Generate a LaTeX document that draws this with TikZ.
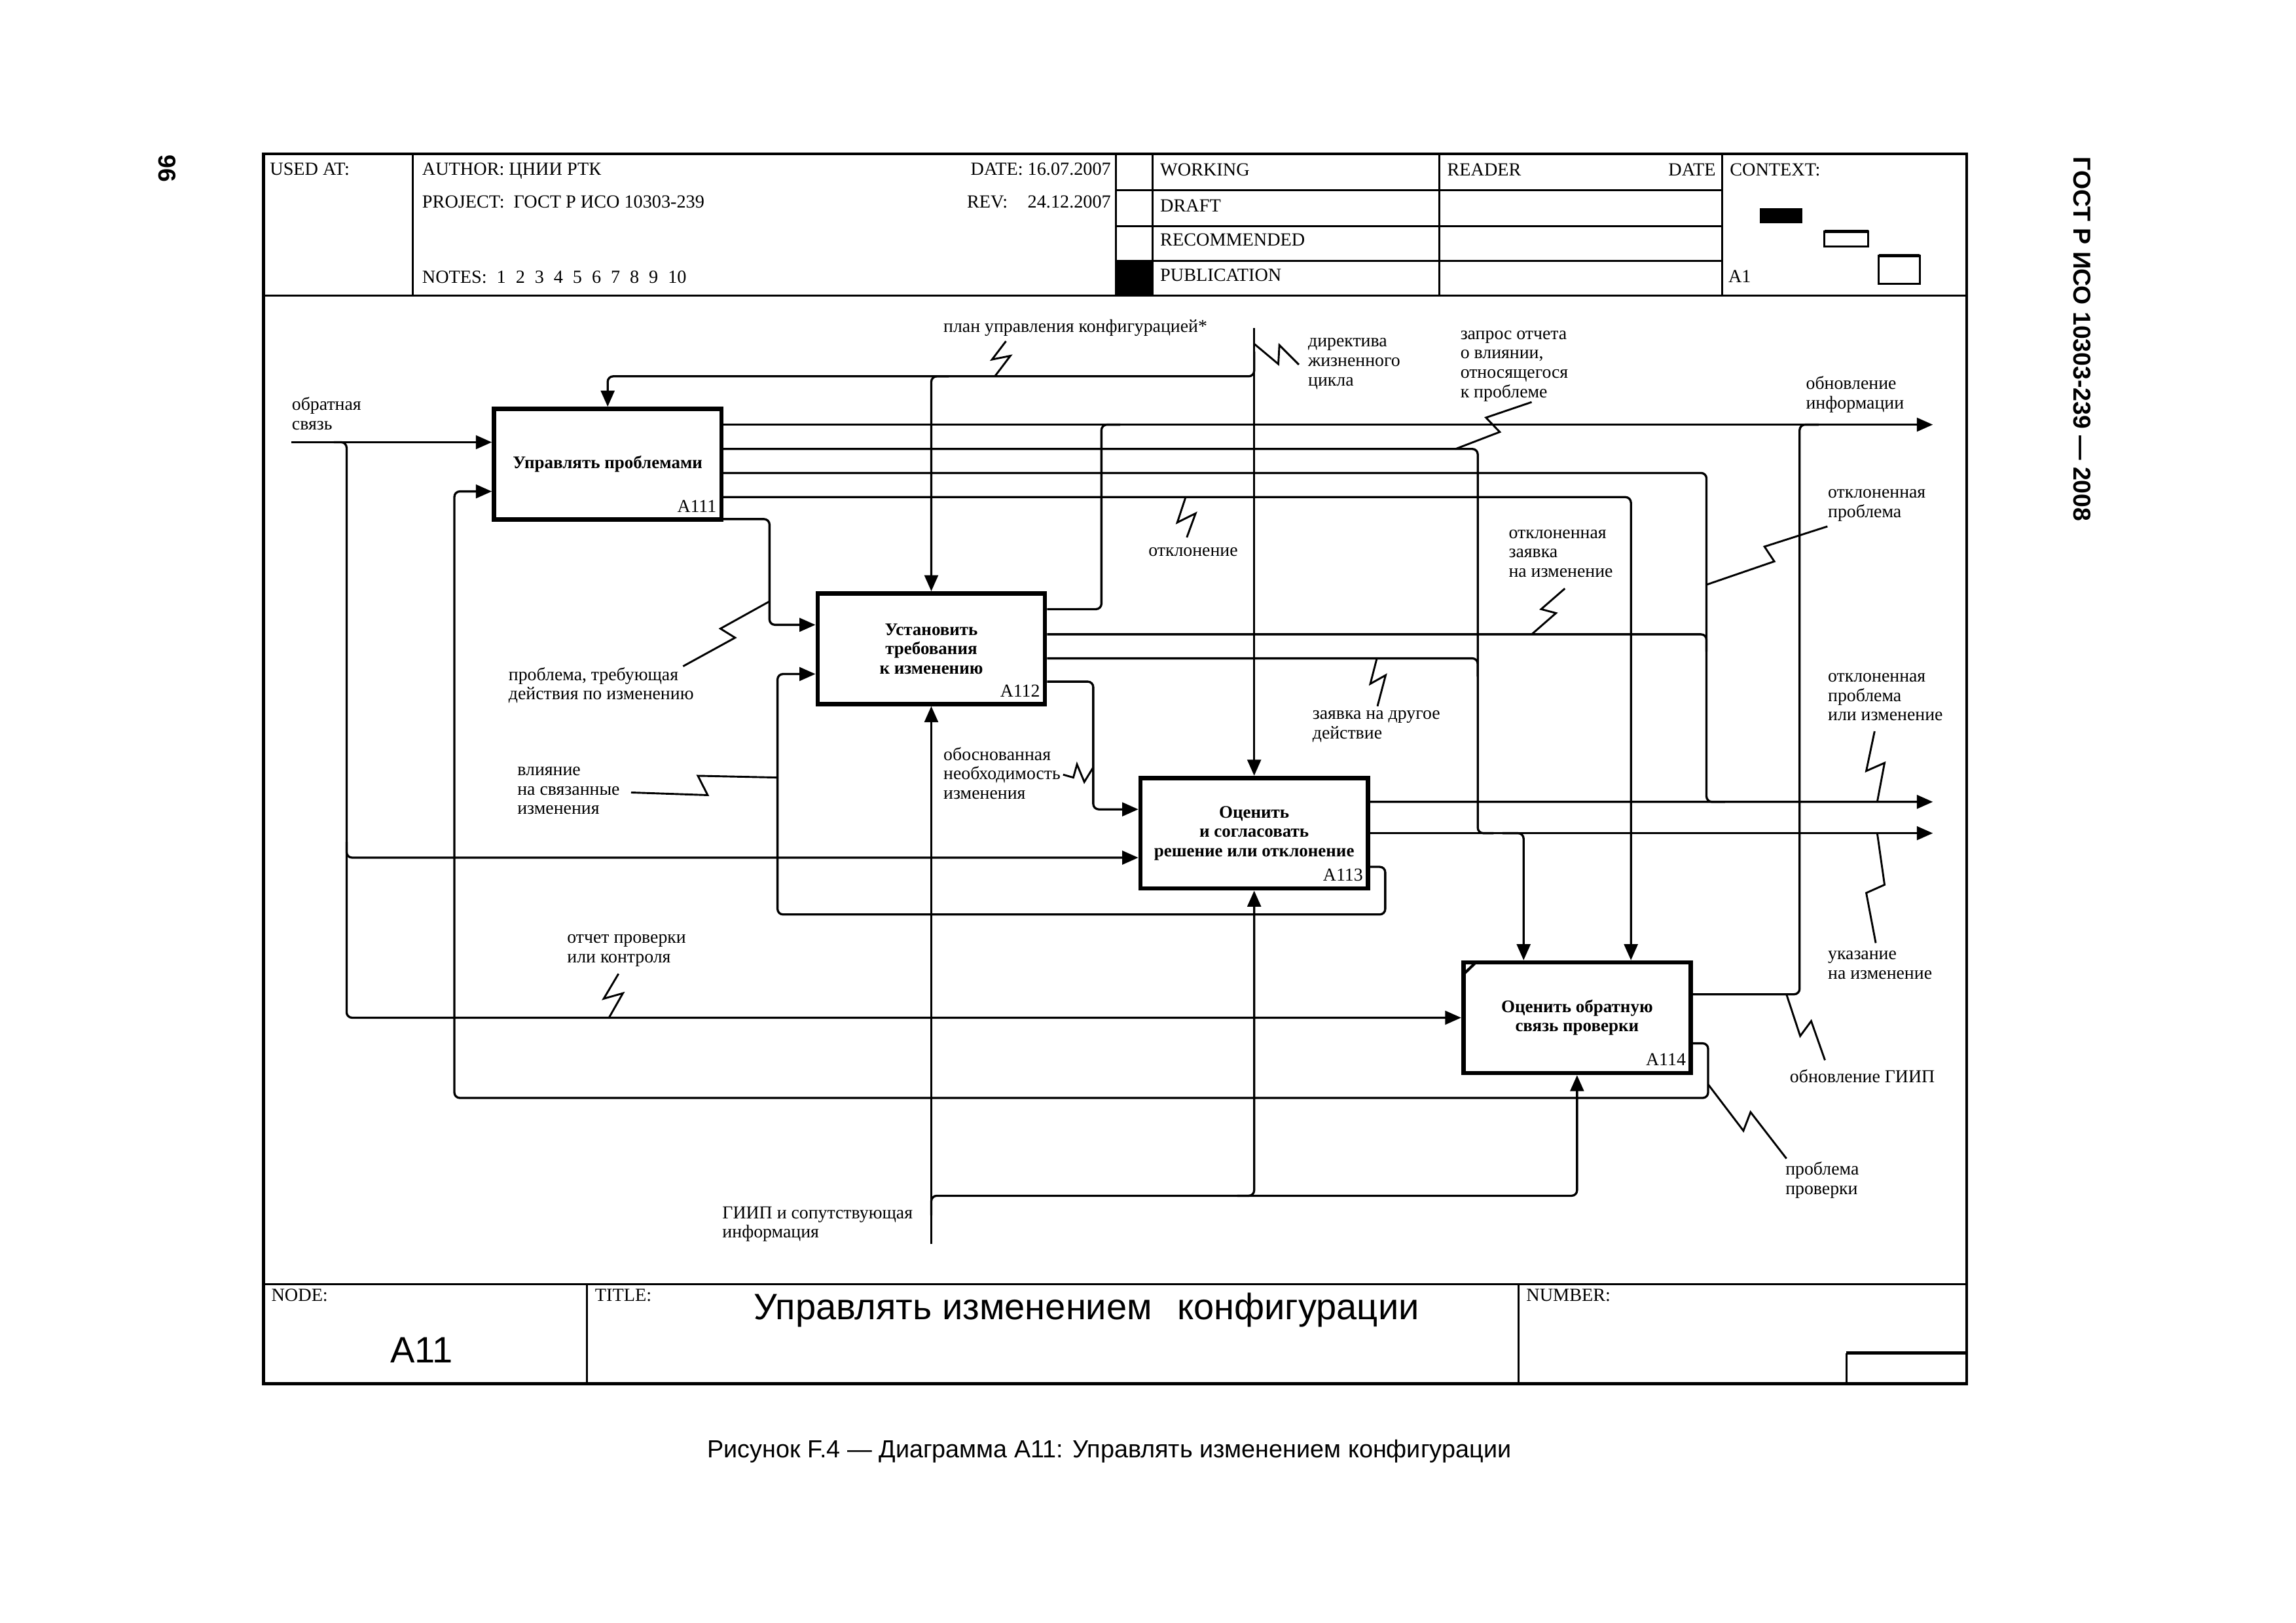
\documentclass[tikz,border=0pt]{standalone}
\usepackage{fontspec}
\setmainfont{Liberation Serif}
\newfontfamily\sansfont{Liberation Sans}
\usetikzlibrary{positioning,arrows.meta,calc}

\newcommand{\lblfont}{\fontsize{6.7}{7.15}\selectfont}
\newcommand{\boxfont}{\fontsize{6.5}{7.1}\selectfont\bfseries}
\newcommand{\hdrfont}{\fontsize{6.8}{7.2}\selectfont}
\newcommand{\ngap}{\hspace{3.6pt}}

\begin{document}
\begin{tikzpicture}[
  x=0.018941cm, y=-0.018941cm,
  fnbox/.style={
    draw, line width=1.6pt, minimum width=2.94cm, minimum height=1.43cm,
    inner sep=0pt, align=center, font=\boxfont
  },
  lab/.style={inner sep=0pt, align=left, anchor=west, font=\lblfont},
  hdr/.style={inner sep=0pt, anchor=base west, font=\hdrfont},
  num/.style={inner sep=0pt, anchor=base east, font=\lblfont},
  flow/.style={line width=0.8pt, rounded corners=2pt},
  arrow/.style={flow, -{Triangle[length=5.9pt,width=5pt]}},
  zig/.style={line width=0.7pt},
  frame/.style={line width=1.1pt},
  hline/.style={line width=0.7pt}
]

% === Page ===
\fill[white] (0,0) rectangle (1568,1108);
\useasboundingbox (0,0) rectangle (1568,1108);

\node[font=\sansfont\bfseries\fontsize{9}{11}\selectfont, rotate=-90, inner sep=0pt] (pageno) at (114,115) {96};
\node[font=\sansfont\bfseries\fontsize{9}{11}\selectfont, rotate=-90, inner sep=0pt] (std) at (1422,231.6)
  {ГОСТ Р ИСО 10303-239 — 2008};

% === Frame ===
\draw[frame] (180,105) rectangle (1343,945);
\draw[hline] (180,202) -- (1343,202);
\draw[hline] (180,877) -- (1343,877);

% Header cells
\foreach \x in {282,762,787,983,1176}
  \draw[hline] (\x,105) -- (\x,202);
\foreach \y in {130,154.6,178}
  \draw[hline] (762,\y) -- (1176,\y);
\fill (762,178) rectangle (787,202);

% Header texts
\node[hdr] (usedat) at (184,119.5) {USED AT:};
\node[hdr] (author) at (288,119.5) {AUTHOR: ЦНИИ РТК};
\node[hdr, anchor=base east] (date) at (759,119.5) {DATE: 16.07.2007};
\node[hdr] (project) at (288,142) {PROJECT: \ ГОСТ Р ИСО 10303-239};
\node[hdr] (rev) at (660,142) {REV:};
\node[hdr, anchor=base east] (revdate) at (759,142) {24.12.2007};
\node[hdr] (notes) at (288,193.5)
  {NOTES:\ngap 1\ngap 2\ngap 3\ngap 4\ngap 5\ngap 6\ngap 7\ngap 8\ngap 9\ngap 10};
\node[hdr] (working) at (792,120) {WORKING};
\node[hdr] (draft) at (792,144.5) {DRAFT};
\node[hdr] (recomm) at (792,168) {RECOMMENDED};
\node[hdr] (public) at (792,192) {PUBLICATION};
\node[hdr] (reader) at (988,120) {READER};
\node[hdr, anchor=base east] (rdate) at (1172,120) {DATE};
\node[hdr] (context) at (1181,120) {CONTEXT:};
\node[hdr] (ctxnode) at (1180,193) {A1};

% Context sketch
\fill (1202,142) rectangle (1231,152.5);
\draw[hline] (1246,158) rectangle (1276,168.5);
\draw[line width=1.3pt] (1246,158) -- (1276,158);
\draw[hline] (1283,174.5) rectangle (1311,194);
\draw[line width=1.3pt] (1283,174.5) -- (1311,174.5);

% Footer cells
\foreach \x in {401,1037}
  \draw[hline] (\x,877) -- (\x,945);
\draw[hline] (1261,945) -- (1261,924);
\draw[line width=1.3pt] (1261,924) -- (1343,924);
\node[hdr] (nodelab) at (185,888.5) {NODE:};
\node[hdr] (titlelab) at (406,888.5) {TITLE:};
\node[hdr] (numlab) at (1042,888.5) {NUMBER:};
\node[font=\sansfont\fontsize{13.5}{16}\selectfont, anchor=base, inner sep=0pt] (nodeid) at (288,930.7) {A11};
\node[font=\sansfont\fontsize{13.5}{16}\selectfont, anchor=base, inner sep=0pt] (title) at (742,901)
  {Управлять изменением\hspace{0.4em} конфигурации};

% Caption
\node[font=\sansfont\fontsize{9.1}{11}\selectfont, anchor=base, inner sep=0pt] (caption) at (757.5,995.6)
  {Рисунок F.4 — Диаграмма А11: Управлять изменением конфигурации};

% === Function boxes ===
\node[fnbox] (A111) at (415,317) {Управлять проблемами};
\node[fnbox] (A112) at (636,443) {Установить\\требования\\к изменению};
\node[fnbox] (A113) at (856.5,569) {Оценить\\и согласовать\\решение или отклонение};
\node[fnbox] (A114) at (1077,695) {Оценить обратную\\связь проверки};
\node[num] at ($(A111.south east)+(-4.5,-6.5)$) {A111};
\node[num] at ($(A112.south east)+(-4.5,-6.5)$) {A112};
\node[num] at ($(A113.south east)+(-4.5,-6.5)$) {A113};
\node[num] at ($(A114.south east)+(-4.5,-6.5)$) {A114};
\draw[line width=1pt] ($(A114.north west)+(1.3,9.9)$) -- ($(A114.north west)+(10.5,1)$);

% === Boundary ends ===
\coordinate (fb) at (199,302);
\coordinate (ctl) at (856.5,224);
\coordinate (mech) at (636,849.6);
\coordinate (outinf) at (1320,290);
\coordinate (outpr) at (1320,547.6);
\coordinate (outuk) at (1320,569);

% === Inputs ===
\draw[arrow] (fb) -- ($(A111.west)+(0,-15)$);
\draw[arrow] (228,302) -- (236.7,302) -- (236.7,695) -- (A114.west);
\draw[arrow] (236.7,575) -- (236.7,585.7) -- ($(A113.west)+(0,16.7)$);

% === Controls ===
\draw[arrow] (ctl) -- (A113.north);
\draw[arrow] (856.5,240) -- (856.5,257) -- (415,257) -- (A111.north);
\draw[arrow] (648,257) -- (636,257) -- (A112.north);

% === Outputs of A111 ===
\draw[arrow] ($(A111.east)+(0,-27)$) -- (outinf);
\draw[flow] ($(A111.east)+(0,-10.4)$) -- (1009.2,306.6) -- (1009.2,569) -- (1020,569);
\draw[flow] ($(A111.east)+(0,6)$) -- (1165.4,323) -- (1165.4,547.6) -- (1178,547.6);
\draw[arrow] ($(A111.east)+(0,22.5)$) -- (1113.8,339.5) -- ($(A114.north)+(36.8,0)$);
\draw[arrow] ($(A111.east)+(0,37.5)$) -- (525.5,354.5) -- (525.5,426.7) -- ($(A112.west)+(0,-16.3)$);

% === Outputs of A112 ===
\draw[flow] ($(A112.east)+(0,-27)$) -- (752.2,416) -- (752.2,290) -- (765,290);
\draw[flow] ($(A112.east)+(0,-9.8)$) -- (1165.4,433.2) -- (1165.4,445);
\draw[flow] ($(A112.east)+(0,6.6)$) -- (1009.2,449.6) -- (1009.2,462);
\draw[arrow] ($(A112.east)+(0,22.5)$) -- (746.6,465.5) -- (746.6,552.7) -- ($(A113.west)+(0,-16.3)$);

% === Outputs of A113 ===
\draw[arrow] ($(A113.east)+(0,-21.4)$) -- (outpr);
\draw[arrow] (A113.east) -- (outuk);
\draw[arrow] (1026,569) -- (1040.5,569) -- ($(A114.north)+(-36.5,0)$);
\draw[arrow] ($(A113.east)+(0,23)$) -- (946,592) -- (946,624.5) -- (531,624.5) -- (531,460.3)
  -- ($(A112.west)+(0,17.3)$);

% === Outputs of A114 ===
\draw[flow] ($(A114.east)+(0,-16)$) -- (1229,679) -- (1229,290) -- (1242,290);
\draw[arrow] ($(A114.east)+(0,17.5)$) -- (1166.5,712.5) -- (1166.5,749.8) -- (310.3,749.8)
  -- (310.3,335.6) -- ($(A111.west)+(0,18.6)$);

% === Mechanism ===
\draw[arrow] (mech) -- (A112.south);
\draw[arrow] (636,830) -- (636,816.6) -- (1077,816.6) -- (A114.south);
\draw[arrow] (845,816.6) -- (856.5,816.6) -- (A113.south);

% === Arrow labels ===
\node[lab] (obrsv) at (199,282.5) {обратная\\связь};
\node[lab] (plan) at (644,224) {план управления конфигурацией*};
\node[lab] (direk) at (893,248.5) {директива\\жизненного\\цикла};
\node[lab] (zapros) at (997,250) {запрос отчета\\о влиянии,\\относящегося\\к проблеме};
\node[lab] (obninf) at (1233,269.5) {обновление\\информации};
\node[lab] (otklpr) at (1248,345) {отклоненная\\проблема};
\node[lab] (otklon) at (784,377) {отклонение};
\node[lab] (otklzv) at (1030,378) {отклоненная\\заявка\\на изменение};
\node[lab] (probtr) at (347,468) {проблема, требующая\\действия по изменению};
\node[lab] (zvdr) at (896,496) {заявка на другое\\действие};
\node[lab] (otklpi) at (1248,476) {отклоненная\\проблема\\или изменение};
\node[lab] (obosn) at (644,528) {обоснованная\\необходимость\\изменения};
\node[lab] (vliyan) at (353,540) {влияние\\на связанные\\изменения};
\node[lab] (ukaz) at (1248,659) {указание\\на изменение};
\node[lab] (otchet) at (387,649) {отчет проверки\\или контроля};
\node[lab] (obngiip) at (1222,735) {обновление ГИИП};
\node[lab] (probpr) at (1219,806) {проблема\\проверки};
\node[lab] (giiplab) at (493,836) {ГИИП и сопутствующая\\информация};

% Label squiggles
\draw[zig] (687,233) -- (677.5,245.5) -- (690,243) -- (679.4,257);
\draw[zig] (856.5,234.8) -- (873,248.6) -- (873.7,235.7) -- (887,249);
\draw[zig] (1046,274.6) -- (1014.8,285.2) -- (1024.2,295) -- (994,306.6);
\draw[zig] (1248,359.5) -- (1205,373.3) -- (1211.7,383.4) -- (1165.4,399.3);
\draw[zig] (809.7,339.5) -- (804,356.8) -- (816.5,350.6) -- (810.5,367);
\draw[zig] (1068.7,401.9) -- (1052.5,416) -- (1062.6,418.7) -- (1046,433.2);
\draw[zig] (466.5,455) -- (502,435.5) -- (492,429.3) -- (525.5,410.7);
\draw[zig] (940.3,449.6) -- (935.8,467) -- (946.3,461.1) -- (940.7,482.3);
\draw[zig] (1280.2,499.4) -- (1274.5,526.5) -- (1287,521) -- (1282,547.6);
\draw[zig] (1282,569) -- (1287,604.2) -- (1274.5,609.8) -- (1281,644);
\draw[zig] (726,529) -- (733,531) -- (735.5,522) -- (740.5,534) -- (746.6,524);
\draw[zig] (431,541.2) -- (483.3,543) -- (476.6,529.8) -- (531,531);
\draw[zig] (422.4,665) -- (412.3,682) -- (425.4,678.3) -- (416,694.8);
\draw[zig] (1220,679) -- (1229.4,707.5) -- (1236.9,697.3) -- (1246.3,724);
\draw[zig] (1166.5,740.5) -- (1190.6,772.2) -- (1195.5,759.5) -- (1220,791.2);

\end{tikzpicture}
\end{document}
